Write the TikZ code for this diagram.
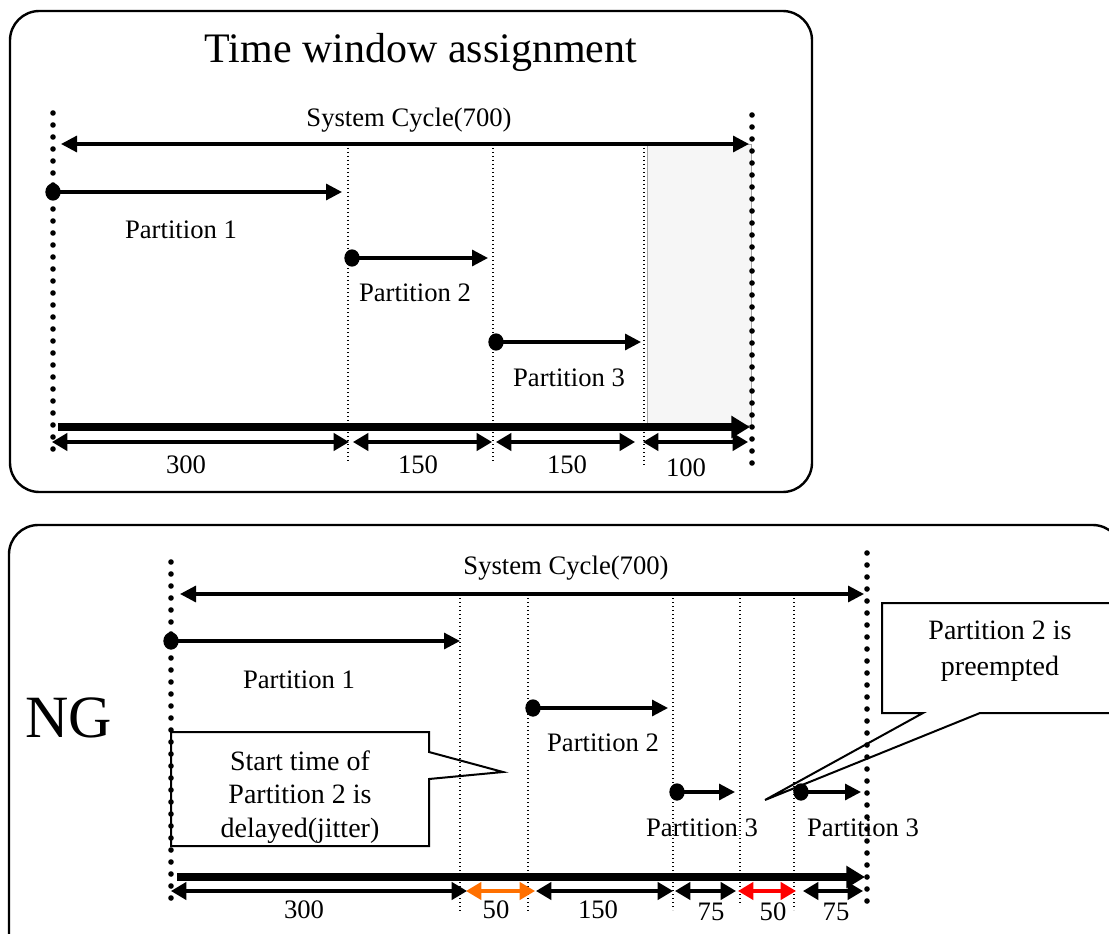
\documentclass[tikz,border=0pt]{standalone}
\usepackage{fontspec}
\setmainfont{Liberation Serif}
\usetikzlibrary{arrows.meta,shapes.geometric}
\definecolor{orng}{RGB}{255,112,0}
\definecolor{lightfill}{RGB}{246,246,246}
\begin{document}
\begin{tikzpicture}[x=0.75pt,y=-0.75pt,
  panel/.style={draw=black,line width=1.8pt,rounded corners=22pt},
  bigdots/.style={line width=4.2pt,line cap=round,dash pattern=on 0pt off 9pt},
  thindots/.style={line width=1pt,dash pattern=on 1pt off 2pt},
  cycarrow/.style={line width=2.4pt,{Triangle[length=12pt,width=12pt]}-{Triangle[length=12pt,width=12pt]}},
  partarrow/.style={line width=2.4pt,-{Triangle[length=12pt,width=12pt]}},
  thickarrow/.style={line width=5.4pt,-{Triangle[length=14pt,width=16pt]}},
  dimarrow/.style={line width=2.4pt,{Triangle[length=11.5pt,width=13pt]}-{Triangle[length=11.5pt,width=13pt]}},
  pdot/.style={ellipse,fill=black,inner sep=0pt,minimum width=11.5pt,minimum height=13pt},
  lbl/.style={font=\fontsize{20}{24}\selectfont,inner sep=0pt},
  callout/.style={draw=black,line width=1.5pt,fill=white,line join=miter},
  ctext/.style={font=\fontsize{21}{25}\selectfont,align=center,inner sep=0pt}
]
\useasboundingbox (0,0) rectangle (1109,934);
\begin{scope}
\clip (0,0) rectangle (1109,934);
% ---------------- top panel ----------------
\draw[panel] (10,11) rectangle (812,492);
\node[font=\fontsize{31.5}{36}\selectfont,inner sep=0pt] (title) at (421,52) {Time window assignment};
\filldraw[fill=lightfill,draw=gray!70,line width=0.6pt] (647,144) rectangle (751,425);

\coordinate (tL1) at (53,113); \coordinate (tL2) at (53,457);
\coordinate (tR1) at (752,115); \coordinate (tR2) at (752,472);
\coordinate (ta1) at (348,144); \coordinate (ta2) at (348,463);
\coordinate (tb1) at (493,144); \coordinate (tb2) at (493,462);
\coordinate (tc1) at (644,144); \coordinate (tc2) at (644,465);
\draw[thindots] (ta1) -- (ta2);
\draw[thindots] (tb1) -- (tb2);
\draw[thindots] (tc1) -- (tc2);
\draw[bigdots] (tL1) -- (tL2);
\draw[bigdots] (tR1) -- (tR2);

\node[lbl] (tcycl) at (409,120) {System Cycle(700)};
\coordinate (tcyA) at (61,144); \coordinate (tcyB) at (749,144);
\draw[cycarrow] (tcyA) -- (tcyB);

\node[pdot] (tp1) at (53,192) {}; \coordinate (tp1e) at (342,192);
\draw[partarrow] (tp1.center) -- (tp1e);
\node[lbl] (tp1l) at (181,230) {Partition 1};
\node[pdot] (tp2) at (352,258) {}; \coordinate (tp2e) at (488,258);
\draw[partarrow] (tp2.center) -- (tp2e);
\node[lbl] (tp2l) at (415,293) {Partition 2};
\node[pdot] (tp3) at (496,342) {}; \coordinate (tp3e) at (641,342);
\draw[partarrow] (tp3.center) -- (tp3e);
\node[lbl] (tp3l) at (569,378) {Partition 3};

\coordinate (tthA) at (58,427); \coordinate (tthB) at (750,427);
\draw[thickarrow] (tthA) -- (tthB);

\coordinate (td0) at (52,442); \coordinate (td1) at (349,442);
\coordinate (td1b) at (353,442); \coordinate (td2) at (492,442);
\coordinate (td2b) at (496,442); \coordinate (td3) at (635,442);
\coordinate (td3b) at (643,442); \coordinate (td4) at (748,442);
\draw[dimarrow] (td0) -- (td1);
\draw[dimarrow] (td1b) -- (td2);
\draw[dimarrow] (td2b) -- (td3);
\draw[dimarrow] (td3b) -- (td4);
\node[lbl] (tn1) at (186,465) {300};
\node[lbl] (tn2) at (418,465) {150};
\node[lbl] (tn3) at (567,465) {150};
\node[lbl] (tn4) at (686,468) {100};

% ---------------- bottom panel ----------------
\draw[panel] (9,525) rectangle (1122,965);
\node[font=\fontsize{45}{50}\selectfont,inner sep=0pt] (ng) at (69,718) {NG};

% callouts
\draw[callout] (171,732) -- (429,732) -- (429,752) -- (503,772) -- (429,779) -- (429,846) -- (171,846) -- cycle;
\node[ctext] (c1) at (300,797) {Start time of\\Partition 2 is\\delayed(jitter)};
\draw[callout] (882,603) -- (1130,603) -- (1130,713) -- (980,713) -- (765,800) -- (923,713) -- (882,713) -- cycle;
\node[ctext,font=\fontsize{21}{27}\selectfont] (c2) at (1000,651) {Partition 2 is\\preempted};

\coordinate (bL1) at (171,562); \coordinate (bL2) at (171,907);
\coordinate (bR1) at (867,553); \coordinate (bR2) at (867,910);
\coordinate (ba1) at (460,594); \coordinate (ba2) at (460,912);
\coordinate (bb1) at (528,594); \coordinate (bb2) at (528,912);
\coordinate (bc1) at (673,594); \coordinate (bc2) at (673,910);
\coordinate (bd1) at (740,594); \coordinate (bd2) at (740,905);
\coordinate (be1) at (794,594); \coordinate (be2) at (794,910);

\node[lbl] (bcycl) at (566,568) {System Cycle(700)};
\node[lbl] (bp1l) at (299,680) {Partition 1};
\node[lbl] (bp2l) at (603,743) {Partition 2};
\node[lbl] (bp3l) at (702,828) {Partition 3};
\node[lbl] (bp3l2) at (863,828) {Partition 3};

\draw[thindots] (ba1) -- (ba2);
\draw[thindots] (bb1) -- (bb2);
\draw[thindots] (bc1) -- (bc2);
\draw[thindots] (bd1) -- (bd2);
\draw[thindots] (be1) -- (be2);
\draw[bigdots] (bL1) -- (bL2);
\draw[bigdots] (bR1) -- (bR2);

\coordinate (bcyA) at (180,594); \coordinate (bcyB) at (864,594);
\draw[cycarrow] (bcyA) -- (bcyB);

\node[pdot] (bp1) at (171,641) {}; \coordinate (bp1e) at (460,641);
\draw[partarrow] (bp1.center) -- (bp1e);
\node[pdot] (bp2) at (533,708) {}; \coordinate (bp2e) at (668,708);
\draw[partarrow] (bp2.center) -- (bp2e);
\node[pdot] (bp3) at (677,792) {}; \coordinate (bp3e) at (735,792);
\draw[partarrow] (bp3.center) -- (bp3e);
\node[pdot] (bp4) at (801,792) {}; \coordinate (bp4e) at (861,792);
\draw[partarrow] (bp4.center) -- (bp4e);

\coordinate (bthA) at (177,877); \coordinate (bthB) at (865,877);
\draw[thickarrow] (bthA) -- (bthB);

\coordinate (bd0) at (171,891); \coordinate (bd01) at (467,891);
\coordinate (bo0) at (466,891); \coordinate (bo1) at (535,891);
\coordinate (bk0) at (536,891); \coordinate (bk1) at (673,891);
\coordinate (bs0) at (675,891); \coordinate (bs1) at (736,891);
\coordinate (br0) at (738,891); \coordinate (br1) at (796,891);
\coordinate (bt0) at (803,891); \coordinate (bt1) at (863,891);
\draw[dimarrow] (bd0) -- (bd01);
\draw[dimarrow,draw=orng,fill=orng] (bo0) -- (bo1);
\draw[dimarrow] (bk0) -- (bk1);
\draw[dimarrow] (bs0) -- (bs1);
\draw[dimarrow,draw=red,fill=red] (br0) -- (br1);
\draw[dimarrow] (bt0) -- (bt1);
\node[lbl] (bn1) at (304,910) {300};
\node[lbl] (bn2) at (496,910) {50};
\node[lbl] (bn3) at (598,910) {150};
\node[lbl] (bn4) at (711,912) {75};
\node[lbl] (bn5) at (773,912) {50};
\node[lbl] (bn6) at (836,912) {75};
\end{scope}
\end{tikzpicture}
\end{document}
